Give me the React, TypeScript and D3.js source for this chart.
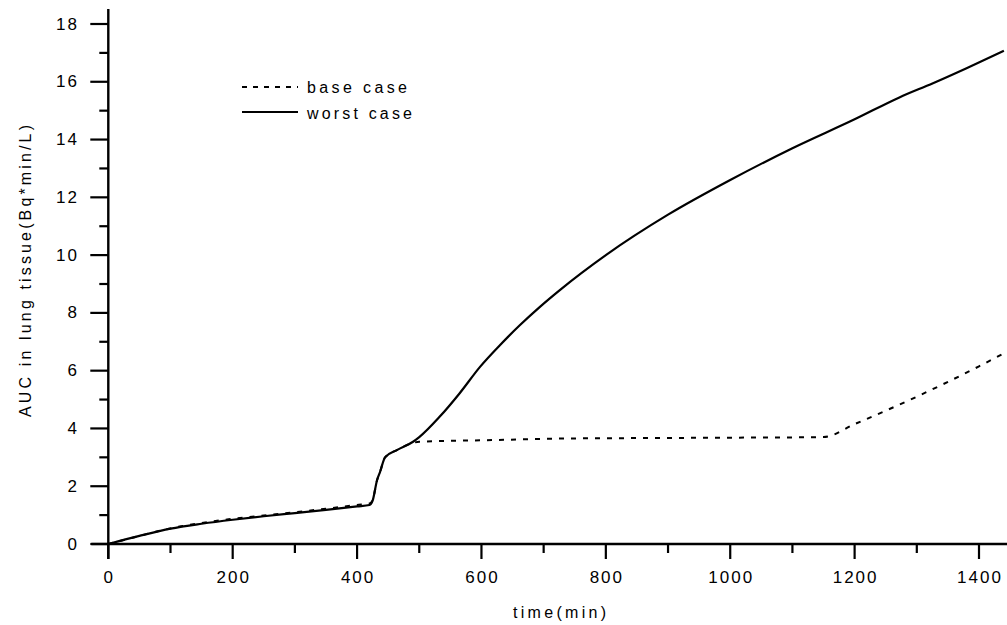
import React from "react";
import * as d3 from "d3";

const worstT = [0, 50, 100, 150, 200, 250, 300, 350, 400, 420, 425, 432, 437, 445, 464, 490, 500, 533, 565, 598, 630, 662, 694, 726, 800, 900, 1000, 1100, 1200, 1272, 1326, 1380, 1440];
const worstV = [0, 0.28, 0.53, 0.7, 0.84, 0.96, 1.07, 1.18, 1.3, 1.35, 1.5, 2.2, 2.5, 3.0, 3.25, 3.54, 3.7, 4.41, 5.22, 6.14, 6.89, 7.58, 8.21, 8.79, 10.0, 11.4, 12.6, 13.7, 14.7, 15.46, 15.95, 16.47, 17.07];

const baseT = [0, 50, 100, 150, 200, 250, 300, 350, 400, 420, 425, 432, 437, 445, 464, 490, 500, 624, 726, 900, 1000, 1150, 1200, 1300, 1400, 1440];
const baseV = [0, 0.28, 0.54, 0.73, 0.87, 0.99, 1.1, 1.22, 1.35, 1.4, 1.52, 2.2, 2.5, 3.0, 3.25, 3.5, 3.54, 3.6, 3.65, 3.67, 3.68, 3.7, 4.15, 5.1, 6.15, 6.6];

const xMajor = [0, 200, 400, 600, 800, 1000, 1200, 1400];
const xMinor = [100, 300, 500, 700, 900, 1100, 1300];
const yMajor = [0, 2, 4, 6, 8, 10, 12, 14, 16, 18];
const yMinor = [1, 3, 5, 7, 9, 11, 13, 15, 17];

const legendLabels = ["base case", "worst case"];
const xTitle = "time(min)";
const yTitle = "AUC in lung tissue(Bq*min/L)";

export default function App() {
  const W = 1007, H = 625;
  const x = d3.scaleLinear().domain([0, 1400]).range([108.3, 979]);
  const y = d3.scaleLinear().domain([0, 18]).range([544, 24]);
  const line = d3.line<[number, number]>().x(d => x(d[0])).y(d => y(d[1])).curve(d3.curveMonotoneX);
  const worst = line(worstT.map((t, i) => [t, worstV[i]]) as [number, number][]) || "";
  const base = line(baseT.map((t, i) => [t, baseV[i]]) as [number, number][]) || "";
  const font = "'Liberation Sans', Arial, sans-serif";
  const x0 = x(0), y0 = y(0);
  return (
    <svg width={W} height={H} style={{ position: "absolute", left: 0, top: 0, background: "#fff" }} fontFamily={font}>
      <rect width={W} height={H} fill="#fff" />
      <path d={base} fill="none" stroke="#000" strokeWidth={2} strokeDasharray="5,7" />
      <path d={worst} fill="none" stroke="#000" strokeWidth={2.2} />
      {/* axes */}
      <line x1={x0} x2={x0} y1={9} y2={y0 + 15} stroke="#000" strokeWidth={2.4} />
      <line x1={x0 - 17} x2={W} y1={y0} y2={y0} stroke="#000" strokeWidth={2.4} />
      {xMajor.map(v => (
        <g key={"xM" + v}>
          <line x1={x(v)} x2={x(v)} y1={y0} y2={y0 + 15} stroke="#000" strokeWidth={2.2} />
          <text x={x(v) + 1} y={583} textAnchor="middle" fontSize={17} letterSpacing={2}>{v}</text>
        </g>
      ))}
      {xMinor.map(v => (
        <line key={"xm" + v} x1={x(v)} x2={x(v)} y1={y0} y2={y0 + 9} stroke="#000" strokeWidth={2.2} />
      ))}
      {yMajor.map(v => (
        <g key={"yM" + v}>
          <line x1={x0 - 18} x2={x0} y1={y(v)} y2={y(v)} stroke="#000" strokeWidth={2.2} />
          <text x={79} y={y(v)} textAnchor="end" dominantBaseline="central" fontSize={17} letterSpacing={2}>{v}</text>
        </g>
      ))}
      {yMinor.map(v => (
        <line key={"ym" + v} x1={x0 - 9} x2={x0} y1={y(v)} y2={y(v)} stroke="#000" strokeWidth={2.2} />
      ))}
      {/* titles */}
      <text x={513} y={618} fontSize={16} textLength={93} lengthAdjust="spacing">{xTitle}</text>
      <text transform="translate(31,417) rotate(-90)" fontSize={16} textLength={292} lengthAdjust="spacing">{yTitle}</text>
      {/* legend */}
      <line x1={242} x2={298} y1={87} y2={87} stroke="#000" strokeWidth={2} strokeDasharray="5,6" />
      <text x={307} y={93} fontSize={16} textLength={100} lengthAdjust="spacing">{legendLabels[0]}</text>
      <line x1={242} x2={298} y1={112} y2={112} stroke="#000" strokeWidth={2} />
      <text x={307} y={119} fontSize={16} textLength={105} lengthAdjust="spacing">{legendLabels[1]}</text>
    </svg>
  );
}
